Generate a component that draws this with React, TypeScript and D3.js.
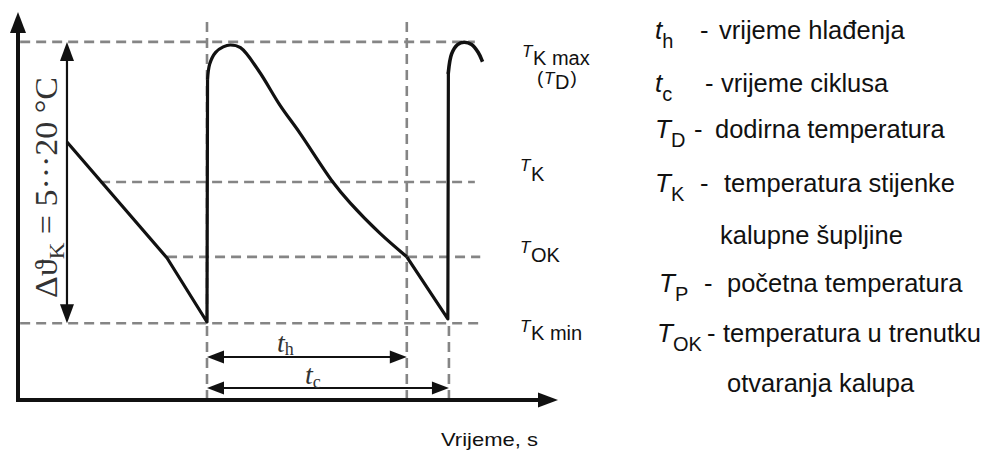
import React from "react";
import * as d3 from "d3";

const W = 985;
const H = 452;

// Temperature levels (arbitrary units) and how far their guide lines run (time units)
const levelNames = ["TKmax", "TK", "TOK", "TKmin"];
const levelValues = [92.3, 56.2, 36.9, 19.8];
const levelStarts = [0.4, 15.2, 27.6, 0.4];
const levelEnds = [84.6, 84.6, 85.6, 85.9];

// Event times: cycle start, mould opening, cycle end
const eventTimes = [35.0, 72.0, 79.8];
const eventTops = [97.4, 97.4, 19.8];

// Mould wall temperature curve, in pieces
const coolingT = [9.07, 27.6, 35.0, 35.1];
const coolingV = [66.5, 36.6, 20.1, 82.5];
const peak1T = [35.1, 35.5, 36.6, 38.0, 39.3, 41.2, 44.6, 48.5, 52.2, 58.3, 61.5, 67.0, 72.0];
const peak1V = [82.5, 86.6, 89.6, 91.0, 91.5, 90.8, 84.8, 76.0, 68.8, 56.2, 50.8, 43.0, 36.9];
const cool2T = [72.0, 79.6, 79.7];
const cool2V = [36.9, 20.9, 84.5];
const peak2T = [79.7, 80.3, 81.4, 82.6, 84.0, 85.2, 85.9];
const peak2V = [84.5, 89.2, 91.6, 92.2, 91.6, 89.6, 87.6];

// Dimension arrows
const deltaArrowTime = 9.07;
const thLevel = 11.1;
const tcLevel = 3.1;

// Labels
const levelLabelMain = ["T", "(T", "T", "T", "T"];
const levelLabelSub = ["K max", "D", "K", "OK", "K min"];
const legendSymbols = ["t", "t", "T", "T", "", "T", "T", ""];
const legendSubs = ["h", "c", "D", "K", "", "P", "OK", ""];
const legendTexts = [
  "vrijeme hlađenja",
  "vrijeme ciklusa",
  "dodirna temperatura",
  "temperatura stijenke",
  "kalupne šupljine",
  "početna temperatura",
  "temperatura u trenutku",
  "otvaranja kalupa",
];
const legendHasDash = [true, true, true, true, false, true, true, false];
const xAxisTitle = "Vrijeme, s";
const deltaLabel = " = 5···20 °C";

// layout for the legend (pixels)
const legendLayout = [
  { y: 39, sx: 655, dx: 700, tx: 719 },
  { y: 92, sx: 655, dx: 705, tx: 721 },
  { y: 138, sx: 655, dx: 694, tx: 715 },
  { y: 192, sx: 655, dx: 700, tx: 724 },
  { y: 244, sx: 655, dx: 0, tx: 720 },
  { y: 292, sx: 659, dx: 704, tx: 727 },
  { y: 342, sx: 657, dx: 707, tx: 723 },
  { y: 392, sx: 655, dx: 0, tx: 727 },
];
const levelLabelLayout = [
  { x: 522, y: 57, subDy: 8 },
  { x: 537, y: 84, subDy: 5 },
  { x: 520, y: 171, subDy: 10 },
  { x: 520, y: 253, subDy: 9 },
  { x: 520, y: 332, subDy: 8 },
];

const SANS = "'Liberation Sans', Arial, sans-serif";
const SERIF = "'Liberation Serif', 'Times New Roman', 'DejaVu Serif', serif";

export default function App() {
  const x = d3.scaleLinear().domain([0, 100]).range([18, 558]);
  const y = d3.scaleLinear().domain([0, 100]).range([400, 12]);

  const pts = (ts: number[], vs: number[]) => ts.map((t, i) => [t, vs[i]] as [number, number]);
  const lin = d3.line<[number, number]>().x((d) => x(d[0])).y((d) => y(d[1]));
  const smooth = d3
    .line<[number, number]>()
    .x((d) => x(d[0]))
    .y((d) => y(d[1]))
    .curve(d3.curveCatmullRom.alpha(0.5));

  const dash = { stroke: "#858585", strokeWidth: 2.6, strokeDasharray: "10 6", fill: "none" };

  const x0 = x(0);
  const y0 = y(0);
  const axisTop = y(100);
  const axisRight = x(100);

  const arrowV = (cx: number, tipY: number, dir: number, len: number, half: number) =>
    `M${cx},${tipY} L${cx - half},${tipY + dir * len} L${cx + half},${tipY + dir * len} Z`;
  const arrowH = (cy: number, tipX: number, dir: number, len: number, half: number) =>
    `M${tipX},${cy} L${tipX + dir * len},${cy - half} L${tipX + dir * len},${cy + half} Z`;

  const dx = x(deltaArrowTime);
  const dTop = y(levelValues[0]);
  const dBot = y(levelValues[3]);

  const thY = y(thLevel);
  const tcY = y(tcLevel);
  const xa = x(eventTimes[0]);
  const xb = x(eventTimes[1]);
  const xc = x(eventTimes[2]);

  const labelT = 17;
  const labelSub = 20;

  return (
    <svg
      width={W}
      height={H}
      viewBox={`0 0 ${W} ${H}`}
      style={{ position: "absolute", left: 0, top: 0, background: "#fff" }}
    >
      <rect width={W} height={H} fill="#fff" />

      {/* dashed horizontal levels */}
      {levelNames.map((n, i) => (
        <line
          key={n}
          x1={x(levelStarts[i])}
          x2={x(levelEnds[i])}
          y1={y(levelValues[i])}
          y2={y(levelValues[i])}
          {...dash}
        />
      ))}
      {/* dashed vertical event lines */}
      {eventTimes.map((t, i) => (
        <line key={i} x1={x(t)} x2={x(t)} y1={y(0)} y2={y(eventTops[i])} {...dash} />
      ))}

      {/* axes */}
      <line x1={x0} x2={x0} y1={y0 + 2} y2={axisTop + 16} stroke="#111" strokeWidth={4} />
      <path d={arrowV(x0, axisTop, 1, 21, 8)} fill="#111" />
      <line x1={x0 - 2} x2={axisRight - 16} y1={y0} y2={y0} stroke="#111" strokeWidth={4} />
      <path d={arrowH(y0, axisRight, -1, 20, 7.5)} fill="#111" />

      {/* curve */}
      <g fill="none" stroke="#111" strokeWidth={3.2} strokeLinejoin="round">
        <path d={lin(pts(coolingT, coolingV)) || ""} />
        <path d={smooth(pts(peak1T, peak1V)) || ""} />
        <path d={lin(pts(cool2T, cool2V)) || ""} />
        <path d={smooth(pts(peak2T, peak2V)) || ""} strokeLinecap="square" strokeWidth={3.6} />
      </g>

      {/* delta arrow */}
      <line x1={dx} x2={dx} y1={dTop + 14} y2={dBot - 14} stroke="#111" strokeWidth={2.2} />
      <path d={arrowV(dx, dTop, 1, 19, 7)} fill="#111" />
      <path d={arrowV(dx, dBot, -1, 19, 7)} fill="#111" />
      <text
        transform={`translate(57,298) rotate(-90)`}
        fontFamily={SERIF}
        fontSize={31}
        fill="#333"
        textLength={221}
        lengthAdjust="spacingAndGlyphs"
      >
        Δϑ
        <tspan dy={7} fontSize={21}>
          K
        </tspan>
        <tspan dy={-7}>{deltaLabel}</tspan>
      </text>

      {/* th / tc arrows */}
      <line x1={xa + 10} x2={xb - 10} y1={thY} y2={thY} stroke="#111" strokeWidth={2} />
      <path d={arrowH(thY, xa, 1, 17, 6.5)} fill="#111" />
      <path d={arrowH(thY, xb, -1, 17, 6.5)} fill="#111" />
      <line x1={xa + 10} x2={xc - 10} y1={tcY} y2={tcY} stroke="#111" strokeWidth={2} />
      <path d={arrowH(tcY, xa, 1, 17, 6.5)} fill="#111" />
      <path d={arrowH(tcY, xc, -1, 17, 6.5)} fill="#111" />
      <text x={277} y={352} fontFamily={SERIF} fontSize={28} fontStyle="italic" fill="#333">
        t
        <tspan dy={3} fontSize={18} fontStyle="normal">
          h
        </tspan>
      </text>
      <text x={305} y={384} fontFamily={SERIF} fontSize={28} fontStyle="italic" fill="#333">
        t
        <tspan dy={4} fontSize={18} fontStyle="normal">
          c
        </tspan>
      </text>

      {/* level labels */}
      {levelLabelMain.map((m, i) => {
        const L = levelLabelLayout[i];
        const isParen = m.startsWith("(");
        const tX = isParen ? L.x + 7 : L.x;
        return (
          <g key={i} fontFamily={SANS} fill="#111">
            {isParen ? (
              <text x={L.x} y={L.y} fontSize={19}>
                (
              </text>
            ) : null}
            <text x={tX} y={L.y} fontSize={labelT} fontStyle="italic">
              T
            </text>
            <text x={tX + 11} y={L.y + L.subDy} fontSize={labelSub}>
              {levelLabelSub[i]}
            </text>
            {isParen ? (
              <text x={tX + 11 + 15.5} y={L.y} fontSize={19}>
                )
              </text>
            ) : null}
          </g>
        );
      })}

      <text
        x={441}
        y={446}
        fontFamily={SANS}
        fontSize={19}
        fill="#111"
        textLength={97}
        lengthAdjust="spacingAndGlyphs"
      >
        {xAxisTitle}
      </text>

      {/* legend */}
      {legendTexts.map((t, i) => {
        const L = legendLayout[i];
        return (
          <g key={i} fontFamily={SANS} fill="#111">
            {legendSymbols[i] ? (
              <text x={L.sx} y={L.y} fontSize={26}>
                <tspan fontStyle="italic">{legendSymbols[i]}</tspan>
                <tspan dy={9} fontSize={20}>
                  {legendSubs[i]}
                </tspan>
              </text>
            ) : null}
            {legendHasDash[i] ? (
              <text x={L.dx} y={L.y} fontSize={25.5}>
                -
              </text>
            ) : null}
            <text x={L.tx} y={L.y} fontSize={25.5}>
              {t}
            </text>
          </g>
        );
      })}
    </svg>
  );
}
